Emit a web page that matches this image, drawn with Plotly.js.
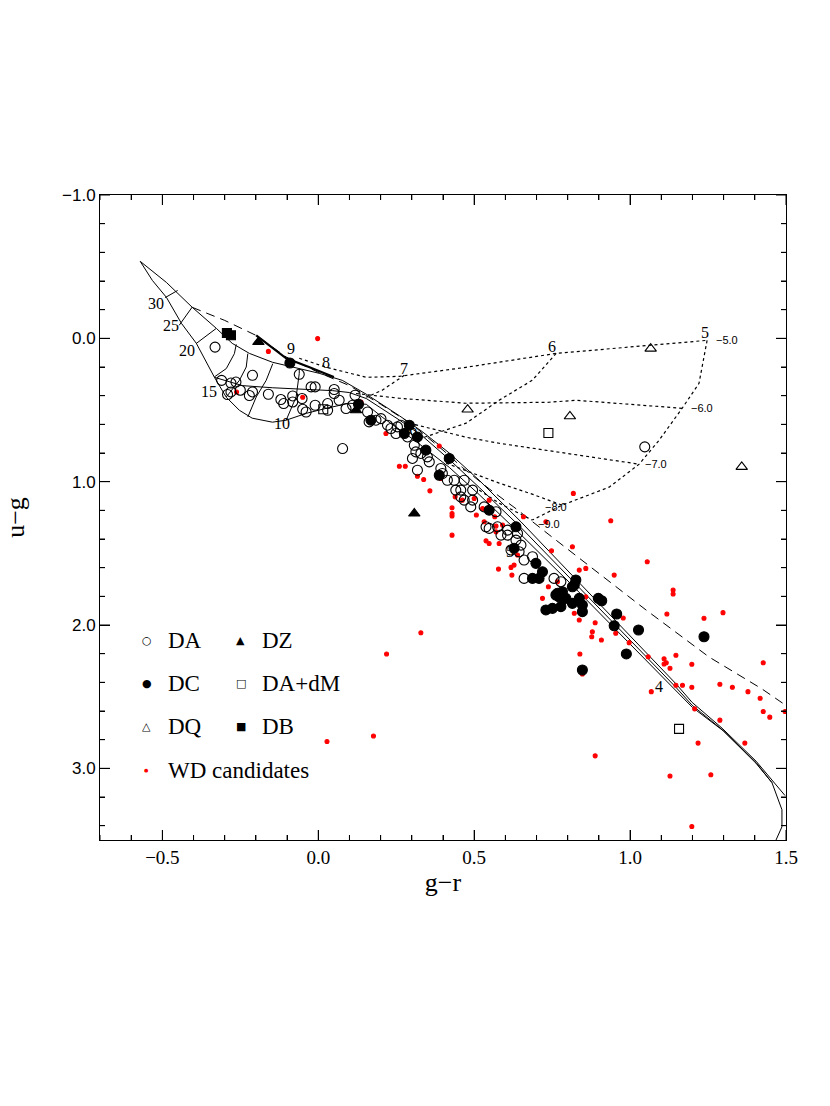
<!DOCTYPE html>
<html>
<head>
<meta charset="utf-8">
<script src="https://cdn.plot.ly/plotly-3.0.1.min.js"></script>
<style>
body { margin: 0; background: #fff; }
#plot { width: 830px; height: 1106px; }
</style>
</head>
<body>
<div id="plot"></div>
<script>
// observed white dwarfs, [g-r, u-g]
let daPts = [[-0.331,0.061],[-0.310,0.293],[-0.280,0.312],[-0.264,0.305],[-0.291,0.392],[-0.280,0.374],[-0.250,0.362],
  [-0.211,0.258],[-0.221,0.399],[-0.211,0.374],[-0.160,0.390],[-0.120,0.427],[-0.111,0.455],[-0.082,0.402],[-0.082,0.444],
  [-0.061,0.251],[-0.052,0.420],[-0.050,0.495],[-0.039,0.514],[-0.023,0.339],[-0.010,0.339],[-0.010,0.467],[0.030,0.455],
  [0.030,0.502],[0.051,0.357],[0.051,0.385],[0.067,0.432],[0.089,0.490],[0.110,0.467],[0.118,0.397],[0.158,0.514],
  [0.163,0.583],[0.185,0.571],[0.078,0.769],[0.222,0.606],[0.254,0.618],[0.265,0.606],[0.249,0.664],[0.286,0.688],
  [0.308,0.746],[0.313,0.792],[0.302,0.838],[0.329,0.803],[0.350,0.827],[0.356,0.862],[0.318,0.920],[0.393,0.908],
  [0.398,0.943],[0.414,0.990],[0.436,0.990],[0.468,0.990],[0.441,1.059],[0.457,1.059],[0.495,1.059],[0.457,1.106],
  [0.468,1.129],[0.495,1.129],[0.489,1.176],[0.532,1.176],[0.570,1.210],[0.538,1.315],[0.548,1.326],[0.575,1.315],
  [0.607,1.338],[0.586,1.373],[0.607,1.373],[0.639,1.361],[0.634,1.408],[0.650,1.443],[0.618,1.477],[0.644,1.489],
  [0.660,1.547],[0.687,1.524],[0.660,1.675],[0.756,1.675],[0.778,1.698],[1.047,0.757],[0.233,0.629],[0.201,0.560]];

let dcPts = [[-0.091,0.172],[0.129,0.460],[0.169,0.571],[0.276,0.664],[0.292,0.606],[0.318,0.688],[0.345,0.780],
  [0.420,0.838],[0.388,0.955],[0.548,1.199],[0.634,1.315],[0.628,1.465],[0.698,1.570],[0.719,1.629],[0.687,1.675],
  [0.708,1.675],[0.826,1.686],[0.821,1.721],[0.815,1.733],[0.767,1.779],[0.783,1.768],[0.772,1.803],[0.794,1.814],
  [0.815,1.849],[0.837,1.814],[0.847,1.861],[0.847,1.907],[0.778,1.872],[0.730,1.895],[0.751,1.884],[0.762,1.791],
  [0.898,1.814],[0.909,1.831],[0.957,1.923],[0.949,2.005],[1.027,2.035],[0.988,2.202],[0.847,2.314],[1.237,2.082]];

let dqPts = [[1.066,0.072],[0.807,0.544],[1.358,0.897],[0.479,0.497]];
let dzPts = [[-0.192,0.026],[0.121,0.502],[0.308,1.222]];
let dadmPts = [[0.016,0.495],[0.738,0.660],[1.157,2.725]];
let dbPts = [[-0.293,-0.037],[-0.280,-0.021]];

let candPts = [[-0.002,0.002],[-0.160,0.091],[-0.262,0.374],[-0.050,0.411],[0.137,0.444],[0.217,0.664],[0.260,0.892],
  [0.279,0.892],[0.318,0.962],[0.338,0.985],[0.358,1.064],[0.388,0.751],[0.393,0.978],[0.429,1.183],[0.429,1.222],
  [0.429,1.240],[0.429,1.373],[0.439,1.106],[0.462,1.129],[0.500,1.117],[0.507,1.233],[0.527,1.187],[0.532,1.280],
  [0.548,1.129],[0.566,1.245],[0.570,1.310],[0.570,1.350],[0.538,1.413],[0.548,1.431],[0.580,1.431],[0.591,1.303],
  [0.658,1.245],[0.639,1.512],[0.578,1.610],[0.618,1.598],[0.628,1.582],[0.621,1.652],[0.719,1.814],[0.738,1.733],
  [0.748,1.482],[0.815,1.454],[0.818,1.082],[0.837,1.617],[0.858,1.803],[0.938,1.273],[0.949,1.652],[0.821,1.918],
  [0.837,1.965],[0.879,2.047],[0.877,2.082],[0.908,2.105],[0.954,2.058],[0.329,2.054],[1.055,1.559],[0.730,1.280],
  [0.858,1.605],[0.767,1.698],[0.888,1.984],[0.978,1.951],[0.997,2.123],[1.138,1.756],[1.138,1.784],[1.118,1.923],
  [1.237,1.953],[1.298,1.914],[0.839,2.202],[0.847,2.341],[1.058,2.221],[1.109,2.235],[1.116,2.263],[1.109,2.272],
  [1.128,2.302],[1.147,2.211],[1.198,2.274],[1.427,2.263],[1.068,2.465],[1.147,2.420],[1.168,2.420],[1.198,2.434],
  [1.288,2.413],[1.328,2.434],[1.378,2.465],[1.417,2.511],[1.427,2.604],[1.448,2.643],[1.497,2.604],[1.207,2.585],
  [1.288,2.664],[1.218,2.824],[1.368,2.824],[0.888,2.913],[1.128,3.054],[1.259,3.045],[1.198,3.406],[0.219,2.202],
  [0.028,2.813],[0.177,2.774]];

// DA model grid: three log g sequences and the isotherms between them
let seqLow = [[-0.571,-0.537],[-0.487,-0.390],[-0.404,-0.216],[-0.327,-0.070],[-0.276,0.035],[-0.221,0.105],[-0.147,0.167],
  [-0.061,0.209],[0.003,0.244],[0.077,0.293],[0.154,0.390],[0.26,0.54],[0.333,0.65],[0.42,0.80],[0.516,0.99],[0.65,1.28],
  [0.804,1.63],[1.006,2.09],[1.147,2.41],[1.199,2.54],[1.295,2.72],[1.404,2.95],[1.497,3.19]];
let seqMid = [[-0.333,0.272],[-0.243,0.33],[-0.146,0.345],[-0.061,0.355],[0.046,0.365],[0.099,0.378],[0.154,0.42],[0.26,0.57],
  [0.333,0.68],[0.42,0.845],[0.516,1.04],[0.65,1.32],[0.804,1.665],[1.006,2.115],[1.147,2.435],[1.199,2.56],[1.295,2.73],
  [1.404,2.96],[1.455,3.10],[1.487,3.289],[1.487,3.408],[1.468,3.5]];
let seqHigh = [[-0.571,-0.537],[-0.532,-0.404],[-0.487,-0.286],[-0.439,-0.105],[-0.391,0.035],[-0.333,0.272],[-0.295,0.411],
  [-0.253,0.502],[-0.212,0.557],[-0.147,0.585],[-0.103,0.571],[-0.038,0.523],[0.026,0.488],[0.099,0.453],[0.154,0.46],
  [0.205,0.55],[0.314,0.72],[0.42,0.9],[0.516,1.09],[0.65,1.37],[0.804,1.70],[1.006,2.145],[1.147,2.46],[1.2,2.575],
  [1.3,2.74],[1.404,2.965],[1.455,3.10]];
let isotherms = [
  [[-0.491,-0.284],[-0.451,-0.334]],
  [[-0.446,-0.091],[-0.404,-0.219]],
  [[-0.392,0.037],[-0.328,-0.068]],
  [[-0.333,0.269],[-0.295,0.211],[-0.269,0.107],[-0.263,0.042]],
  [[-0.295,0.409],[-0.253,0.293],[-0.231,0.200],[-0.226,0.107]],
  [[-0.226,0.549],[-0.199,0.409],[-0.167,0.293],[-0.146,0.177]],
  [[-0.103,0.571],[-0.071,0.409],[-0.061,0.246],[-0.061,0.211]]
];
let heSeq = [[-0.199,-0.02],[-0.103,0.14],[-0.03,0.20],[0.05,0.27]];
let bbLine = [[-0.404,-0.216],[-0.30,-0.125],[-0.199,-0.02],[-0.103,0.13],[0.003,0.24],[0.1,0.33],[0.2,0.46],[0.3,0.6],
  [0.4,0.78],[0.4615,0.90],[0.548,1.05],[0.635,1.19],[0.740,1.37],[1.051,1.895],[1.253,2.223],[1.423,2.446],[1.497,2.557]];

// DQ grid: log C/He = -5 ... -9 and Teff = 5, 6, 7 (1000 K)
let dqCarbon = [
  [[-0.061,0.139],[0.026,0.202],[0.154,0.272],[0.260,0.265],[0.474,0.202],[0.763,0.105],[1.061,0.049],[1.247,0.014]],
  [[0.121,0.385],[0.260,0.418],[0.474,0.453],[0.740,0.446],[0.827,0.432],[1.167,0.488]],
  [[0.292,0.592],[0.474,0.690],[0.580,0.732],[0.795,0.801],[1.029,0.878]],
  [[0.410,0.871],[0.580,1.010],[0.686,1.087],[0.782,1.164]],
  [[0.516,1.059],[0.580,1.150],[0.667,1.247],[0.686,1.268]]
];
let dqTeff = [
  [[1.247,0.014],[1.221,0.314],[1.167,0.488],[1.093,0.711],[1.029,0.878],[0.933,1.038],[0.782,1.164],[0.686,1.268]],
  [[0.763,0.105],[0.686,0.293],[0.580,0.432],[0.474,0.592],[0.340,0.690]],
  [[0.276,0.258],[0.205,0.362],[0.154,0.411]]
];

// labels on the model grids
let teffLabels = ['30','25','20','15','10','9','8','7','6','5','6','5','4'];
let teffPos = [[-0.519,-0.244],[-0.471,-0.091],[-0.420,0.084],[-0.349,0.369],[-0.115,0.592],[-0.087,0.070],[0.024,0.168],
  [0.276,0.209],[0.750,0.056],[1.240,-0.042],[0.304,0.634],[0.615,1.484],[1.093,2.432]];
let carbonLabels = ['\u22125.0','\u22126.0','\u22127.0','\u22128.0','\u22129.0'];
let carbonPos = [[1.311,0.014],[1.231,0.488],[1.083,0.878],[0.763,1.178],[0.740,1.296]];

let legendNames = ['DA','DZ','DC','DA+dM','DQ','DB','WD candidates'];
let legendGlyphs = ['\u25CB','\u25B2','\u25CF','\u25A1','\u25B3','\u25A0','\u25CF'];
let legendColors = ['black','black','black','black','black','black','red'];

const xs = pts => pts.map(p => p[0]);
const ys = pts => pts.map(p => p[1]);
const joined = segs => {
    let out = [];
    segs.forEach(s => { s.forEach(p => out.push(p)); out.push([null, null]); });
    return out;
};
function line(pts, width, dash) {
    return {x: xs(pts), y: ys(pts), mode: 'lines', showlegend: false, hoverinfo: 'skip',
            line: {color: 'black', width: width, dash: dash || 'solid'}};
}
function pts(p, symbol, size, color) {
    return {x: xs(p), y: ys(p), mode: 'markers', showlegend: false,
            marker: {symbol: symbol, size: size, color: color || 'black',
                     line: {color: color || 'black', width: 1.1}}};
}

let traces = [
    line(seqLow, 1), line(seqMid, 1), line(seqHigh, 1), line(joined(isotherms), 1),
    line(heSeq, 2.2), line(bbLine, 1, '9px,6px'),
    line(joined(dqCarbon), 1.2, 'dot'), line(joined(dqTeff), 1.2, 'dot'),
    pts(candPts, 'circle', 4, 'red'),
    pts(daPts, 'circle-open', 10),
    pts(dcPts, 'circle', 10),
    pts(dqPts, 'triangle-up-open', 10),
    pts(dzPts, 'triangle-up', 10),
    pts(dadmPts, 'square-open', 9),
    pts(dbPts, 'square', 9)
];

let annotations = [];
teffLabels.forEach((t, i) => annotations.push({x: teffPos[i][0], y: teffPos[i][1], text: t, showarrow: false,
    font: {family: 'Liberation Serif', size: 16, color: 'black'}}));
carbonLabels.forEach((t, i) => annotations.push({x: carbonPos[i][0], y: carbonPos[i][1], text: t, showarrow: false,
    font: {family: 'Liberation Sans', size: 11, color: 'black'}}));

// hand-made legend in two columns
let legX = [0.0685, 0.2055, 0.0685, 0.2055, 0.0685, 0.2055, 0.0685];
let legY = [0.310, 0.310, 0.2434, 0.2434, 0.1767, 0.1767, 0.1085];
legendNames.forEach((n, i) => {
    annotations.push({xref: 'paper', yref: 'paper', x: legX[i], y: legY[i], xanchor: 'center', yanchor: 'middle',
        showarrow: false, text: legendGlyphs[i],
        font: {family: 'DejaVu Sans', size: i === 6 ? 5 : 11, color: legendColors[i]}});
    annotations.push({xref: 'paper', yref: 'paper', x: legX[i] + 0.028, y: legY[i],
        xanchor: 'left', yanchor: 'middle', showarrow: false, text: n,
        font: {family: 'Liberation Serif', size: 23, color: 'black'}});
});

// inward tick marks on all four sides, drawn as pixel-sized shapes on the axis values
let shapes = [];
const tickLine = {color: 'black', width: 1};
for (let k = -7; k <= 15; k++) {
    let v = k / 10, len = (k % 5 === 0) ? 10 : 5;
    shapes.push({type: 'line', xref: 'x', yref: 'paper', x0: v, x1: v, ysizemode: 'pixel', yanchor: 0, y0: 0, y1: len, line: tickLine});
    shapes.push({type: 'line', xref: 'x', yref: 'paper', x0: v, x1: v, ysizemode: 'pixel', yanchor: 1, y0: 0, y1: -len, line: tickLine});
}
for (let k = -5; k <= 17; k++) {
    let v = k / 5, len = (k % 5 === 0) ? 10 : 5;
    shapes.push({type: 'line', xref: 'paper', yref: 'y', y0: v, y1: v, xsizemode: 'pixel', xanchor: 0, x0: 0, x1: len, line: tickLine});
    shapes.push({type: 'line', xref: 'paper', yref: 'y', y0: v, y1: v, xsizemode: 'pixel', xanchor: 1, x0: 0, x1: -len, line: tickLine});
}

let layout = {
    width: 830, height: 1106,
    margin: {l: 100, r: 44, t: 195, b: 266},
    showlegend: false,
    xaxis: {
        range: [-0.7, 1.5], dtick: 0.5, tick0: 0, tickformat: '.1f',
        ticks: 'inside', ticklen: 10, tickcolor: 'black',
        showline: true, mirror: 'allticks', linecolor: 'black', showgrid: false, zeroline: false,
        minor: {dtick: 0.1, ticks: 'inside', ticklen: 5},
        tickfont: {family: 'Liberation Serif', size: 19, color: 'black'},
        title: {text: 'g\u2212r', font: {family: 'Liberation Serif', size: 26, color: 'black'}, standoff: 6}
    },
    yaxis: {
        range: [3.5, -1.0], dtick: 1, tick0: 0, tickformat: '.1f',
        ticks: 'inside', ticklen: 10, tickcolor: 'black',
        showline: true, mirror: 'allticks', linecolor: 'black', showgrid: false, zeroline: false,
        minor: {dtick: 0.2, ticks: 'inside', ticklen: 5},
        tickfont: {family: 'Liberation Sans', size: 17, color: 'black'},
        title: {text: 'u\u2212g', font: {family: 'Liberation Serif', size: 26, color: 'black'}, standoff: 29}
    },
    annotations: annotations,
    shapes: shapes
};

Plotly.newPlot('plot', traces, layout, {staticPlot: true});
</script>
</body>
</html>
